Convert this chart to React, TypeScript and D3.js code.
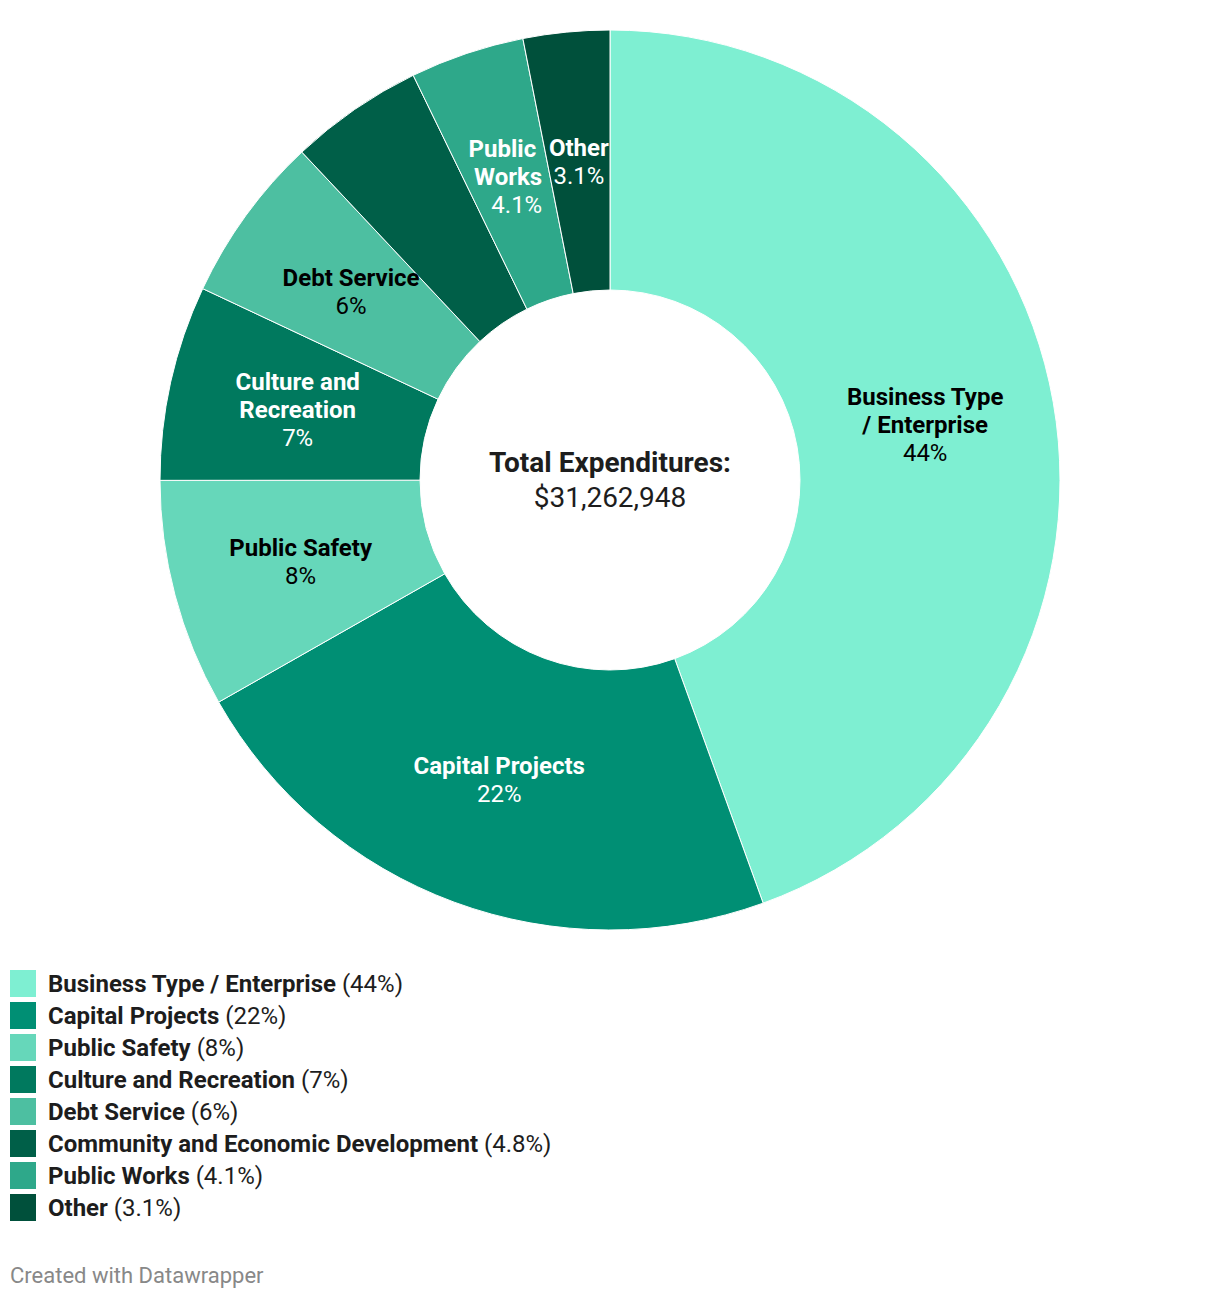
import React, { useEffect, useRef } from 'react';
import * as d3 from 'd3';

const categories = [
    'Business Type / Enterprise',
    'Capital Projects',
    'Public Safety',
    'Culture and Recreation',
    'Debt Service',
    'Community and Economic Development',
    'Public Works',
    'Other',
];
// shares in percent
const shares = [44.45, 22.3, 8.2, 7.0, 6.0, 4.8, 4.1, 3.1];
const shareLabels = ['44%', '22%', '8%', '7%', '6%', '4.8%', '4.1%', '3.1%'];
// how the slice labels wrap; empty = no label on the slice
const sliceLines = [
    ['Business Type', '/ Enterprise'],
    ['Capital Projects'],
    ['Public Safety'],
    ['Culture and', 'Recreation'],
    ['Debt Service'],
    [],
    ['Public\u00a0', 'Works'],
    ['Other'],
];
// Public Works label is pushed left of Other, right aligned
const labelAlign = ['middle', 'middle', 'middle', 'middle', 'middle', 'middle', 'end', 'middle'];
const colors = ['#7eefd2', '#008f74', '#66d7ba', '#00795e', '#4dbfa1', '#005f48', '#2ea88a', '#00503b'];
const darkText = [true, false, true, false, true, false, false, false];
const totalTitle = 'Total Expenditures:';
const totalValue = '$31,262,948';

const W = 1220;
const H = 1298;

export default function App() {
    const ref = useRef<SVGSVGElement>(null);

    useEffect(() => {
        const svg = d3.select(ref.current);
        svg.selectAll('*').remove();
        const font = 'Roboto, sans-serif';
        const cx = 610;
        const cy = 480;

        const data = categories.map((name, i) => ({ name, value: shares[i], i }));
        const pie = d3
            .pie<any>()
            .sort(null)
            .value((d) => d.value)
            .startAngle(0)
            .endAngle(2 * Math.PI);
        const arc = d3.arc<any>().innerRadius(190).outerRadius(450);
        const arcs = pie(data);

        const chart = svg.append('g').attr('transform', `translate(${cx},${cy})`);
        chart
            .selectAll('.slice')
            .data(arcs)
            .enter()
            .append('path')
            .attr('class', 'slice')
            .attr('d', arc)
            .attr('fill', (d) => colors[d.data.i])
            .attr('stroke', '#fff')
            .attr('stroke-width', 1);

        const labels = chart
            .selectAll('.label')
            .data(arcs.filter((d) => sliceLines[d.data.i].length > 0))
            .enter()
            .append('text')
            .attr('class', 'label')
            .attr('font-family', font)
            .attr('font-size', 24)
            .attr('text-anchor', (d) => labelAlign[d.data.i])
            .attr('fill', (d) => (darkText[d.data.i] ? '#000' : '#fff'));
        labels.each(function (d) {
            let [x, y] = arc.centroid(d);
            if (labelAlign[d.data.i] === 'end') x += 34;
            const lines = [...sliceLines[d.data.i], shareLabels[d.data.i]];
            const n = lines.length;
            const t = d3.select(this);
            lines.forEach((line, k) => {
                t.append('tspan')
                    .attr('x', x)
                    .attr('y', y + (k - (n - 1) / 2) * 28 + 8)
                    .attr('font-weight', k < n - 1 ? 700 : 400)
                    .text(line);
            });
        });

        chart
            .append('text')
            .attr('text-anchor', 'middle')
            .attr('font-family', font)
            .attr('font-size', 28)
            .attr('font-weight', 700)
            .attr('fill', '#1d1d1d')
            .attr('y', -8)
            .text(totalTitle);
        chart
            .append('text')
            .attr('text-anchor', 'middle')
            .attr('font-family', font)
            .attr('font-size', 28)
            .attr('fill', '#1d1d1d')
            .attr('y', 27)
            .text(totalValue);

        // legend
        const legend = svg.append('g').attr('transform', 'translate(10,970)');
        const rows = legend
            .selectAll('.row')
            .data(data)
            .enter()
            .append('g')
            .attr('class', 'row')
            .attr('transform', (d) => `translate(0,${d.i * 32})`);
        rows.append('rect').attr('width', 26).attr('height', 27).attr('fill', (d) => colors[d.i]);
        const txt = rows
            .append('text')
            .attr('x', 38)
            .attr('y', 22)
            .attr('font-family', font)
            .attr('font-size', 24)
            .attr('fill', '#1d1d1d');
        txt.append('tspan').attr('font-weight', 700).text((d) => d.name);
        txt.append('tspan').text((d) => ` (${shareLabels[d.i]})`);

        svg.append('text')
            .attr('x', 10)
            .attr('y', 1283)
            .attr('font-family', font)
            .attr('font-size', 22)
            .attr('fill', '#888')
            .text('Created with Datawrapper');
    }, []);

    return (
        <svg
            ref={ref}
            width={W}
            height={H}
            style={{ position: 'absolute', left: 0, top: 0, background: '#fff' }}
        />
    );
}
